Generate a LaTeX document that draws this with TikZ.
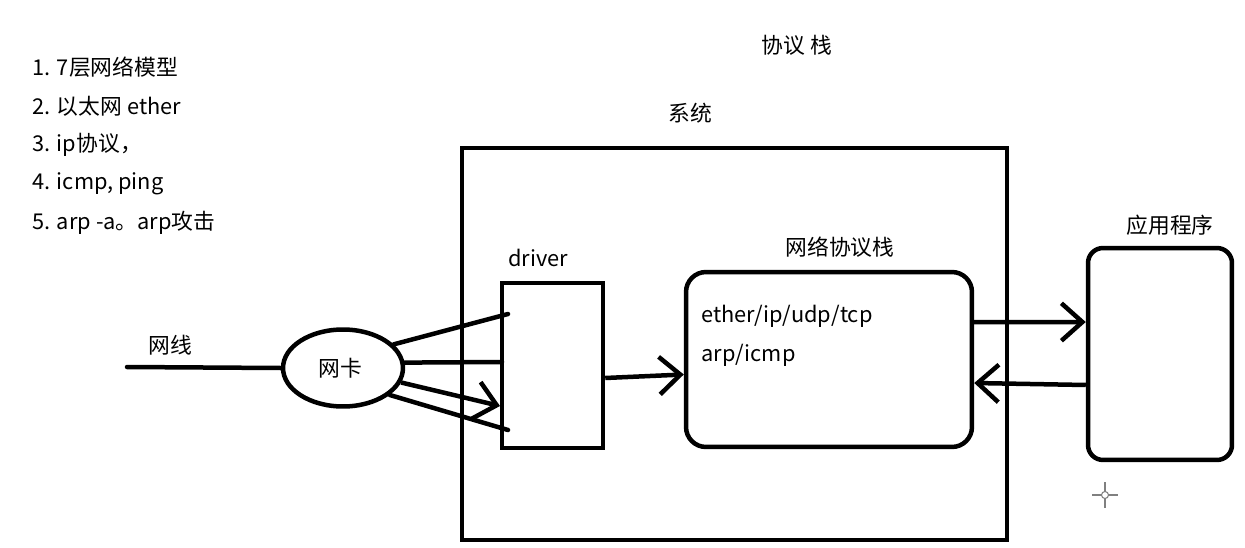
\documentclass[tikz,border=0pt]{standalone}
\usepackage{fontspec}
\setmainfont{Noto Sans CJK SC}
\usetikzlibrary{shapes.geometric,arrows.meta}
\begin{document}
\begin{tikzpicture}[x=0.02cm,y=-0.02cm,
  thick line/.style={line width=0.09cm},
  box/.style={draw,thick line,rectangle,inner sep=0pt},
  lbl/.style={font=\fontsize{12.4pt}{14pt}\selectfont,inner sep=0pt},
  listtxt/.style={font=\fontsize{12.4pt}{14pt}\selectfont,inner sep=0pt,anchor=west},
  arr/.style={thick line,-{Straight Barb[length=0.42cm,width=0.75cm,line width=0.09cm]}},
  conn/.style={thick line,line cap=round}]
\useasboundingbox (0,0) rectangle (1245,548);
\fill[white] (0,0) rectangle (1245,548);

% list text
\node[listtxt] (l1) at (32,67) {1. 7层网络模型};
\node[listtxt] (l2) at (32,106) {2. 以太网 ether};
\node[listtxt] (l3) at (32,145) {3. ip协议，};
\node[listtxt] (l4) at (32,184) {4. icmp, ping};
\node[listtxt] (l5) at (32,223) {5. arp -a。arp攻击};

% titles
\node[lbl] (ttl) at (797,45) {协议 栈};
\node[lbl] (sysl) at (690,113) {系统};

% boxes
\node[box,minimum width=10.9cm,minimum height=7.84cm] (sys) at (734.5,344) {};
\node[box,minimum width=2.02cm,minimum height=3.3cm] (drv) at (552.5,365.5) {};
\node[lbl] (drvl) at (538,258) {driver};
\node[box,rounded corners=0.4cm,minimum width=5.72cm,minimum height=3.5cm] (stk) at (829,359.5) {};
\node[lbl] (stkl) at (840,247) {网络协议栈};
\node[listtxt] (t1) at (701,316) {ether/ip/udp/tcp};
\node[listtxt] (t2) at (701,355) {arp/icmp};
\node[box,rounded corners=0.3cm,minimum width=2.88cm,minimum height=4.24cm] (app) at (1160,354) {};
\node[lbl] (appl) at (1170,225) {应用程序};

% NIC and wire
\node[draw,thick line,ellipse,minimum width=2.4cm,minimum height=1.54cm,inner sep=0pt] (nic) at (343,368) {};
\node[lbl] (nicl) at (340,368) {网卡};
\node[lbl] (wirel) at (170,345) {网线};
\coordinate (w0) at (127,367);
\draw[conn] (w0) -- (nic.west);

% NIC to driver
\coordinate (d1) at (508,314);
\coordinate (d2) at (502,362);
\coordinate (d3) at (500,406);
\coordinate (d4) at (508,430);
\draw[conn] (nic.25) -- (d1);
\draw[conn] (nic.5) -- (d2);
\draw[arr] (nic.-14) -- (d3);
\draw[conn] (nic.-30) -- (d4);

% driver to stack, stack <-> app
\draw[arr] ([yshift=-0.25cm]drv.east) -- ([yshift=-0.3cm]stk.west);
\draw[arr] ([yshift=0.75cm]stk.east) -- ([yshift=0.64cm]app.west);
\draw[arr] ([yshift=-0.62cm]app.west) -- ([yshift=-0.47cm]stk.east);

% cursor mark
\coordinate (cur) at (1105,495);
\draw[gray,line width=0.6pt] ([xshift=-0.26cm]cur) -- ([xshift=-0.07cm]cur)
  ([xshift=0.07cm]cur) -- ([xshift=0.26cm]cur)
  ([yshift=0.26cm]cur) -- ([yshift=0.07cm]cur)
  ([yshift=-0.07cm]cur) -- ([yshift=-0.26cm]cur);
\draw[gray,line width=0.6pt] (cur) circle (0.07cm);
\end{tikzpicture}
\end{document}
